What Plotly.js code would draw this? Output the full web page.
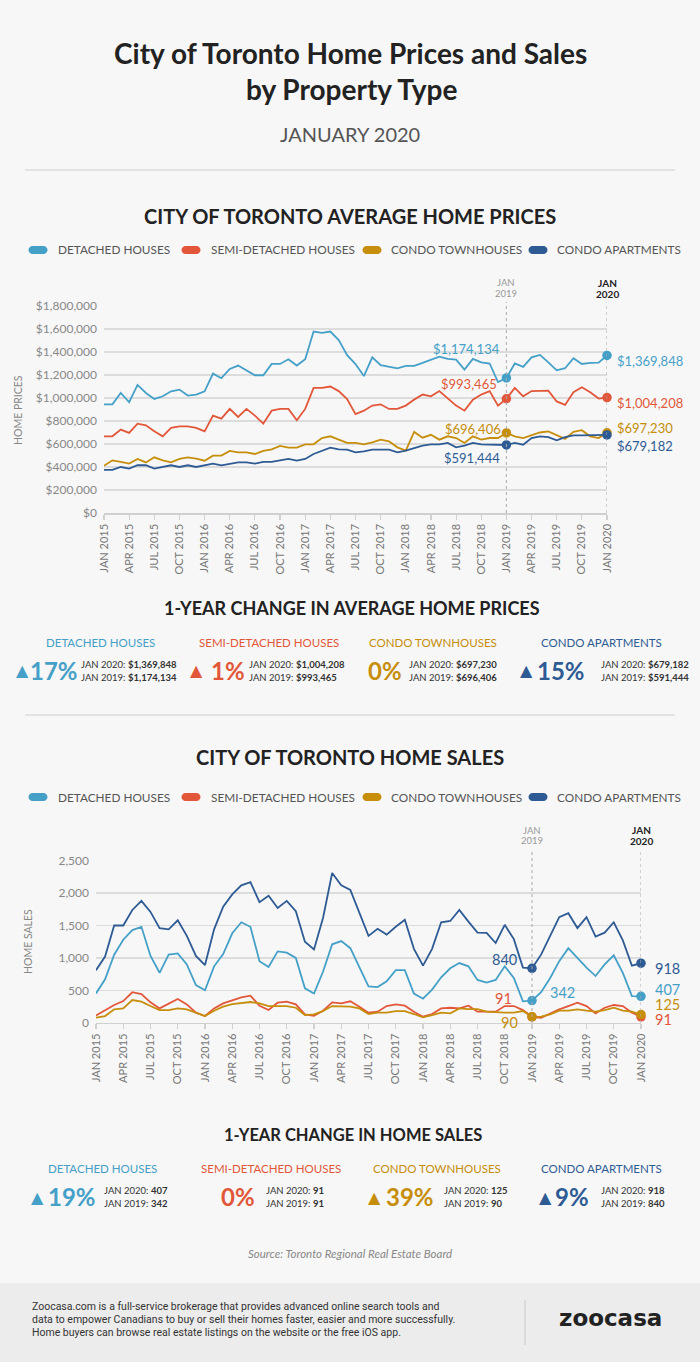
<!DOCTYPE html>
<html>
<head>
<meta charset="utf-8">
<script src="https://cdn.plot.ly/plotly-3.0.1.min.js"></script>
<style>
  html, body { margin: 0; padding: 0; background: #f7f7f7; }
  #chart { width: 700px; height: 1362px; }
</style>
</head>
<body>
<div id="chart"></div>
<script>
// ---------------- DATA ----------------
const MONTH_NAMES = ["JAN","FEB","MAR","APR","MAY","JUN","JUL","AUG","SEP","OCT","NOV","DEC"];
const YEARS = [2015, 2016, 2017, 2018, 2019, 2020];
const months = [];
YEARS.forEach(y => MONTH_NAMES.forEach(m => { if (months.length < 61) months.push(m + " " + y); }));

const seriesNames = ["DETACHED HOUSES", "SEMI-DETACHED HOUSES", "CONDO TOWNHOUSES", "CONDO APARTMENTS"];

// Average home prices ($), Jan 2015 - Jan 2020
const detachedPrice = [945000,945000,1044000,963000,1114000,1044000,992000,1015000,1058000,1073000,1021000,1030000,
  1058000,1212000,1172000,1253000,1282000,1241000,1198000,1198000,1296000,1296000,1337000,1282000,
  1337000,1578000,1566000,1578000,1503000,1373000,1295000,1191000,1354000,1285000,1273000,1258000,
  1280000,1280000,1305000,1333000,1360000,1340000,1334000,1247000,1340000,1310000,1300000,1138000,
  1174134,1300000,1270000,1354000,1375000,1310000,1241000,1259000,1346000,1296000,1305000,1307000,
  1369848];
const semiPrice = [667000,667000,725000,696000,777000,763000,710000,667000,740000,754000,754000,740000,
  710000,847000,820000,905000,835000,905000,847000,777000,890000,905000,905000,806000,
  905000,1088000,1088000,1100000,1060000,990000,860000,890000,934000,945000,905000,905000,
  934000,986000,1030000,1015000,1060000,1000000,934000,890000,986000,1030000,1060000,934000,
  993465,1088000,1015000,1060000,1064000,1064000,970000,940000,1050000,1093000,1050000,995000,
  1004208];
const townPrice = [410000,458000,444000,430000,470000,440000,484000,458000,440000,470000,484000,473000,
  455000,499000,499000,540000,528000,528000,513000,540000,554000,583000,568000,568000,
  597000,597000,652000,667000,638000,609000,609000,597000,615000,638000,623000,571000,
  542000,705000,655000,680000,638000,667000,652000,609000,667000,638000,652000,652000,
  696406,667000,652000,675000,700000,710000,675000,644000,705000,720000,667000,652000,
  697230];
const aptPrice = [375000,375000,400000,386000,415000,415000,386000,400000,415000,400000,415000,400000,
  415000,430000,415000,430000,440000,440000,430000,444000,444000,458000,470000,455000,
  470000,513000,542000,568000,554000,551000,528000,536000,551000,551000,551000,528000,
  542000,565000,586000,597000,597000,609000,571000,586000,609000,597000,597000,597000,
  591444,609000,594000,652000,667000,660000,632000,660000,675000,675000,675000,680000,
  679182];

// Home sales (units), Jan 2015 - Jan 2020
const detachedSales = [450,670,1050,1280,1430,1480,1030,770,1050,1070,900,580,
  500,870,1060,1380,1550,1480,950,860,1100,1080,1000,530,
  450,790,1210,1260,1150,860,560,550,640,810,810,450,
  370,510,700,840,920,870,660,620,660,870,690,330,
  342,470,690,950,1150,1000,850,720,900,1040,770,410,
  407];
const semiSales = [110,185,273,334,470,442,314,221,298,365,283,154,
  103,221,298,350,391,417,262,195,309,324,283,129,
  108,185,314,298,330,247,154,170,257,283,262,170,
  93,134,221,231,221,262,170,170,170,257,257,195,
  91,77,144,206,257,309,257,144,231,273,257,154,
  91];
const townSales = [77,103,206,221,350,324,257,195,195,221,206,154,
  103,185,247,288,309,319,298,257,257,257,231,118,
  129,180,257,257,247,221,134,154,154,180,180,134,
  82,118,154,144,221,211,211,170,160,154,154,180,
  90,93,129,185,185,206,185,170,195,231,185,170,
  125];
const aptSales = [810,1020,1500,1500,1740,1880,1710,1460,1440,1580,1340,1030,
  890,1440,1790,1980,2120,2170,1860,1960,1770,1880,1720,1250,
  1130,1620,2310,2120,2050,1700,1340,1450,1360,1480,1590,1140,
  880,1140,1550,1570,1740,1560,1390,1385,1230,1510,1290,850,
  840,1050,1330,1630,1690,1460,1630,1330,1390,1550,1270,880,
  918];

const priceTickVals = [0,200000,400000,600000,800000,1000000,1200000,1400000,1600000,1800000];
const salesTickVals = [0,500,1000,1500,2000,2500];

// ---------------- STYLE ----------------
const COLORS = ["#45a0c8", "#e2573a", "#c68e0b", "#2e5b94"];
const W = 700, H = 1362;
const FONT = "Lato, 'Open Sans', sans-serif";
const px = x => x / W;
const py = y => 1 - y / H;

const idx = months.map((_, i) => i);
const qIdx = idx.filter(i => i % 3 === 0);
const qText = qIdx.map(i => months[i]);
const I19 = months.indexOf("JAN 2019");
const I20 = months.indexOf("JAN 2020");

const priceSeries = [detachedPrice, semiPrice, townPrice, aptPrice];
const salesSeries = [detachedSales, semiSales, townSales, aptSales];

const traces = [];
function addLines(series, xa, ya) {
  series.forEach((s, k) => {
    traces.push({x: idx, y: s, xaxis: xa, yaxis: ya, type: "scatter", mode: "lines",
      line: {color: COLORS[k], width: 1.8}, hoverinfo: "skip", showlegend: false, name: seriesNames[k]});
  });
  series.forEach((s, k) => {
    traces.push({x: [I19, I20], y: [s[I19], s[I20]], xaxis: xa, yaxis: ya, type: "scatter", mode: "markers",
      marker: {color: COLORS[k], size: 9.5}, hoverinfo: "skip", showlegend: false, cliponaxis: false});
  });
}
addLines(priceSeries, "x", "y");
addLines(salesSeries, "x2", "y2");

const annotations = [];
const shapes = [];
function txt(text, x, y, size, color, opts) {
  annotations.push(Object.assign({text: text, x: px(x), y: py(y), xref: "paper", yref: "paper",
    showarrow: false, xanchor: "center", yanchor: "middle",
    font: {family: FONT, size: size, color: color}}, opts || {}));
}
function hline(y) {
  shapes.push({type: "line", xref: "paper", yref: "paper", x0: px(25), x1: px(675), y0: py(y), y1: py(y),
    line: {color: "#cfcfcf", width: 1}});
}
function pill(cx, cy, w, h, color) {
  const r = h / 2, k = 0.552 * r;
  const L = cx - w / 2, R = cx + w / 2, T = cy - r, B = cy + r;
  const P = (x, y) => px(x).toFixed(5) + "," + py(y).toFixed(5);
  const d = "M" + P(L + r, T) + " L" + P(R - r, T) +
    " C" + P(R - r + k, T) + " " + P(R, cy - k) + " " + P(R, cy) +
    " C" + P(R, cy + k) + " " + P(R - r + k, B) + " " + P(R - r, B) +
    " L" + P(L + r, B) +
    " C" + P(L + r - k, B) + " " + P(L, cy + k) + " " + P(L, cy) +
    " C" + P(L, cy - k) + " " + P(L + r - k, T) + " " + P(L + r, T) + " Z";
  shapes.push({type: "path", xref: "paper", yref: "paper", path: d, fillcolor: color, line: {width: 0}});
}

// Footer band
shapes.push({type: "rect", xref: "paper", yref: "paper", x0: 0, x1: 1, y0: 0, y1: py(1283),
  fillcolor: "#ececec", line: {width: 0}, layer: "below"});
shapes.push({type: "line", xref: "paper", yref: "paper", x0: px(525), x1: px(525), y0: py(1300), y1: py(1345),
  line: {color: "#c8c8c8", width: 1}});

// Header
txt("<b>City of Toronto Home Prices and Sales</b>", 350, 53, 28, "#222");
txt("<b>by Property Type</b>", 351, 89, 28, "#222");
txt("JANUARY 2020", 350, 134, 20, "#555");
hline(170);
hline(715);

// Section titles
txt("<b>CITY OF TORONTO AVERAGE HOME PRICES</b>", 350, 216, 20, "#222");
txt("<b>1-YEAR CHANGE IN AVERAGE HOME PRICES</b>", 352, 608, 18, "#222");
txt("<b>CITY OF TORONTO HOME SALES</b>", 350, 757, 20, "#222");
txt("<b>1-YEAR CHANGE IN HOME SALES</b>", 353, 1135, 16.5, "#222");

// Legends
const legendPos = [[38, 56], [191, 209], [372, 389], [538, 555]];
[250, 797].forEach(ly => {
  legendPos.forEach((p, k) => {
    pill(p[0], ly, 19, 8, COLORS[k]);
    txt(seriesNames[k], p[1], ly, 11.8, "#555", {xanchor: "left"});
  });
});

// Axis titles
txt("HOME PRICES", 18, 410, 10.5, "#888", {textangle: -90});
txt("HOME SALES", 28, 942, 10.5, "#888", {textangle: -90});

// Reference lines & labels for Jan 2019 / Jan 2020
function refLines(xref, yTop, yBot, labY) {
  [I19, I20].forEach(i => {
    shapes.push({type: "line", xref: xref, yref: "paper", x0: i, x1: i, y0: py(yBot), y1: py(yTop),
      line: {color: "#aaaaaa", width: 1, dash: "dot"}});
  });
  [[I19, "JAN", "2019", "#999", false], [I20, "JAN", "2020", "#222", true]].forEach(a => {
    [a[1], a[2]].forEach((t, j) => {
      annotations.push({text: a[4] ? "<b>" + t + "</b>" : t, x: a[0], xref: xref, y: py(labY + j * 10.5), yref: "paper",
        showarrow: false, xanchor: "center", yanchor: "middle",
        font: {family: FONT, size: a[4] ? 10 : 9.5, color: a[3]}});
    });
  });
}
refLines("x", 302, 513, 283);
refLines("x2", 849, 1023, 830);

// Value labels
const money = v => "$" + v.toLocaleString("en-US");
const num = v => v.toLocaleString("en-US");
function vlabel(xref, yref, i, v, text, k, xanchor, xshift, yshift, size) {
  annotations.push({text: text, x: i, y: v, xref: xref, yref: yref, showarrow: false,
    xanchor: xanchor, yanchor: "middle", xshift: xshift, yshift: yshift,
    font: {family: FONT, size: size, color: COLORS[k]}});
}
const p19shift = [[-4, 29], [-7, 15], [-3, 4], [-4, -13]];
const p20shift = [[8, -6], [8, -5], [8, 5], [8, -11]];
priceSeries.forEach((s, k) => {
  vlabel("x", "y", I19, s[I19], money(s[I19]), k, "right", p19shift[k][0], p19shift[k][1], 13);
  vlabel("x", "y", I20, s[I20], money(s[I20]), k, "left", p20shift[k][0], p20shift[k][1], 13);
});
const s19 = [[16, 8, "left"], [-18, 18, "right"], [-12, -6, "right"], [-13, 9, "right"]];
const s20shift = [[12, 7], [12, -3], [12, 10], [12, -5]];
salesSeries.forEach((s, k) => {
  vlabel("x2", "y2", I19, s[I19], num(s[I19]), k, s19[k][2], s19[k][0], s19[k][1], 14.5);
  vlabel("x2", "y2", I20, s[I20], num(s[I20]), k, "left", s20shift[k][0], s20shift[k][1], 14.5);
});

// 1-year change blocks
function changeBlocks(series, fmt, yName, yPct, layout) {
  series.forEach((s, k) => {
    const L = layout[k];
    const pct = Math.round((s[I20] / s[I19] - 1) * 100);
    txt(seriesNames[k], L.name, yName, 11.5, COLORS[k]);
    if (pct > 0) txt("▲", L.tri, yPct + 1, 16, COLORS[k], {xanchor: "left", font: {family: "DejaVu Sans", size: 16, color: COLORS[k]}});
    txt("<b>" + pct + "%</b>", L.pct, yPct, 24, COLORS[k], {xanchor: "left"});
    txt("JAN 2020: <b>" + fmt(s[I20]) + "</b>", L.jan, yPct - 6, 9.5, "#333", {xanchor: "left"});
    txt("JAN 2019: <b>" + fmt(s[I19]) + "</b>", L.jan, yPct + 7, 9.5, "#333", {xanchor: "left"});
  });
}
changeBlocks(priceSeries, money, 642, 670, [
  {name: 100, tri: 14, pct: 28, jan: 79},
  {name: 269, tri: 188, pct: 209, jan: 247},
  {name: 433, tri: 0, pct: 366, jan: 407},
  {name: 601, tri: 518, pct: 535, jan: 599}]);
changeBlocks(salesSeries, num, 1168, 1196, [
  {name: 103, tri: 29, pct: 46, jan: 102},
  {name: 271, tri: 0, pct: 219, jan: 264},
  {name: 437, tri: 366, pct: 384, jan: 442},
  {name: 601, tri: 537, pct: 553, jan: 599}]);

// Source & footer
txt("<i>Source: Toronto Regional Real Estate Board</i>", 350, 1253, 11.5, "#888");
const footerLines = [
  "Zoocasa.com is a full-service brokerage that provides advanced online search tools and",
  "data to empower Canadians to buy or sell their homes faster, easier and more successfully.",
  "Home buyers can browse real estate listings on the website or the free iOS app."];
footerLines.forEach((l, i) => txt(l, 30, 1306 + i * 13, 10.5, "#333", {xanchor: "left", font: {family: "Roboto", size: 10.5, color: "#333"}}));
txt("<b>zoocasa</b>", 610, 1318, 23, "#222", {font: {family: "'DejaVu Sans', sans-serif", size: 23, color: "#222"}});

// ---------------- AXES ----------------
const xCommon = {range: [0, 60], tickvals: qIdx, ticktext: qText, tickangle: -90, showgrid: false,
  showline: true, linecolor: "#d0d0d0", linewidth: 1.5, ticks: "outside", ticklen: 5, tickcolor: "#d0d0d0",
  tickwidth: 1.2, zeroline: false, fixedrange: true, tickfont: {family: FONT, size: 11, color: "#777"}};
const yCommon = {showgrid: true, gridcolor: "#dcdcdc", gridwidth: 1.5, zeroline: false, showline: false,
  ticks: "", fixedrange: true, ticklabelstandoff: 6, tickfont: {family: FONT, size: 12, color: "#888"}};

const layout = {
  width: W, height: H, margin: {l: 0, r: 0, t: 0, b: 0},
  paper_bgcolor: "#f7f7f7", plot_bgcolor: "rgba(0,0,0,0)", showlegend: false,
  xaxis: Object.assign({}, xCommon, {domain: [px(104), px(607)], anchor: "y"}),
  yaxis: Object.assign({}, yCommon, {domain: [py(513), py(306)], range: [0, 1800000], tickvals: priceTickVals,
    tickformat: "$,", anchor: "x"}),
  xaxis2: Object.assign({}, xCommon, {domain: [px(96), px(641)], anchor: "y2"}),
  yaxis2: Object.assign({}, yCommon, {domain: [py(1022.7), py(860.7)], range: [0, 2500], tickvals: salesTickVals,
    tickformat: ",", anchor: "x2"}),
  annotations: annotations, shapes: shapes
};

Plotly.newPlot("chart", traces, layout, {staticPlot: true, displayModeBar: false});
</script>
</body>
</html>
